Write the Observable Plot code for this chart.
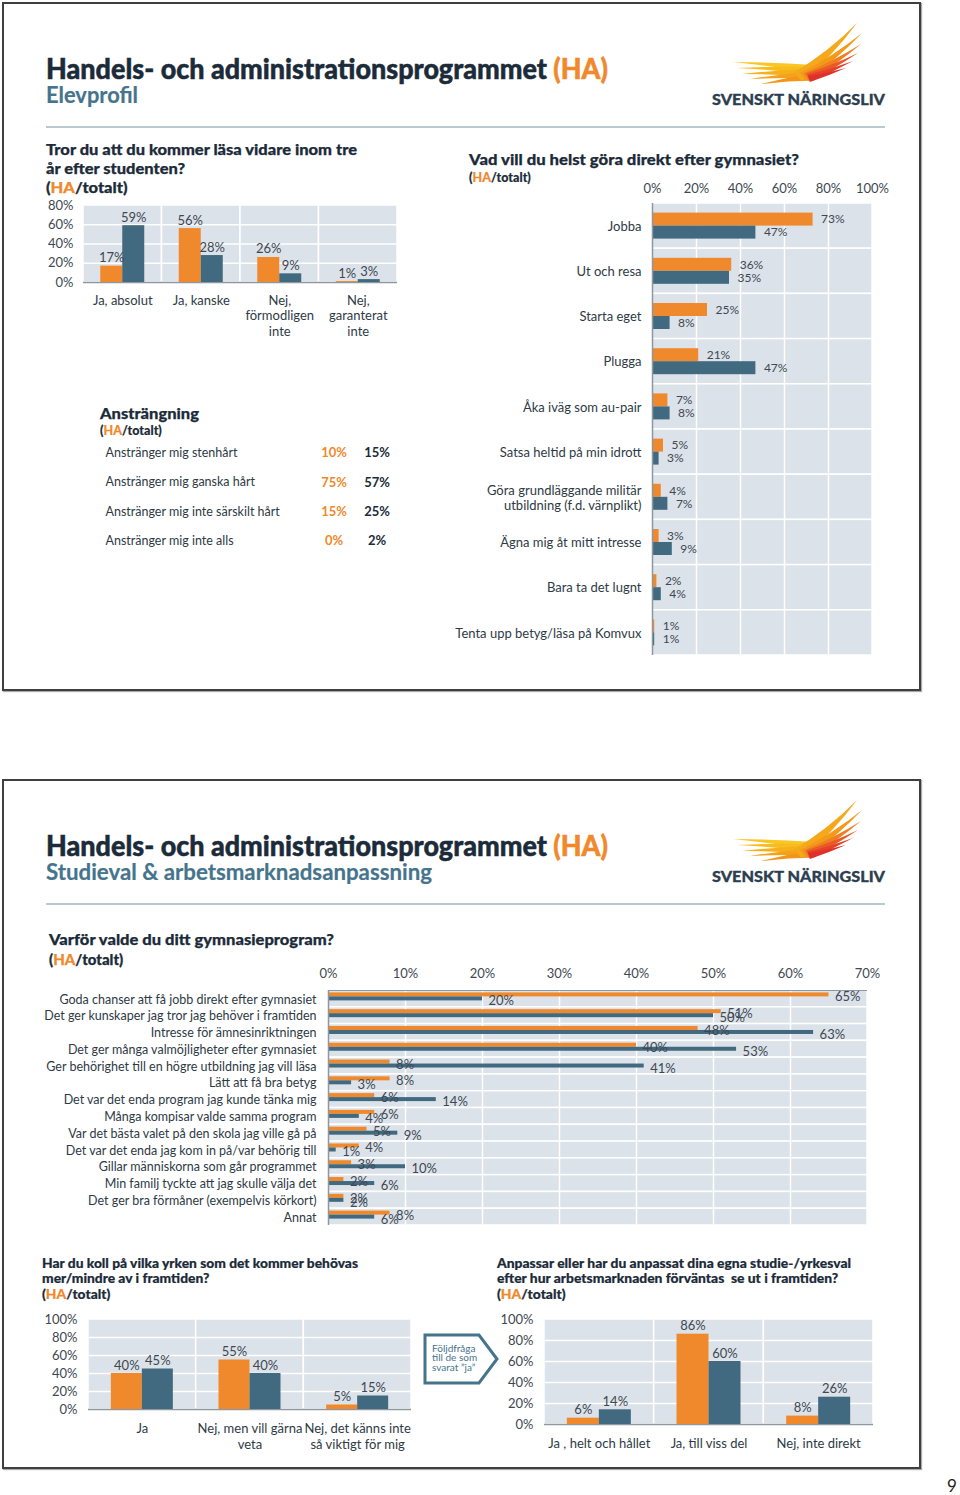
<!DOCTYPE html>
<html><head><meta charset="utf-8">
<script src="https://cdn.jsdelivr.net/npm/d3@7"></script>
<script src="https://cdn.jsdelivr.net/npm/@observablehq/plot@0.6"></script>
<style>
body{margin:0;background:#fff;font-family:Lato,"Noto Sans",sans-serif;}
#page{position:relative;width:960px;height:1495px;overflow:hidden;}
.abs{position:absolute;white-space:nowrap;}
.slide{position:absolute;border:2px solid #3f3f3f;box-sizing:border-box;box-shadow:1px 1px 1px #aaa;}
.o{color:#F0892C;}
</style></head><body><div id="page"></div>
<script>
// ---------- data ----------
const mainTitle = 'Handels- och administrationsprogrammet <span class="o">(HA)</span>';
const subtitle1 = "Elevprofil";
const subtitle2 = "Studieval &amp; arbetsmarknadsanpassning";
const logoText = "SVENSKT NÄRINGSLIV";
const haTot = '(<span class="o">HA</span>/totalt)';

const studyCats = ["Ja, absolut", "Ja, kanske", "Nej,\nförmodligen\ninte", "Nej,\ngaranterat\ninte"];
const studyHA = [17, 56, 26, 1];
const studyTot = [59, 28, 9, 3];
const studyTicks = [0, 20, 40, 60, 80];

const afterCats = ["Jobba", "Ut och resa", "Starta eget", "Plugga", "Åka iväg som au-pair",
  "Satsa heltid på min idrott", "Göra grundläggande militär\nutbildning (f.d. värnplikt)",
  "Ägna mig åt mitt intresse", "Bara ta det lugnt", "Tenta upp betyg/läsa på Komvux"];
const afterHA = [73, 36, 25, 21, 7, 5, 4, 3, 2, 1];
const afterTot = [47, 35, 8, 47, 8, 3, 7, 9, 4, 1];
const afterTicks = [0, 20, 40, 60, 80, 100];

const effortRows = ["Anstränger mig stenhårt", "Anstränger mig ganska hårt", "Anstränger mig inte särskilt hårt", "Anstränger mig inte alls"];
const effortHA = [10, 75, 15, 0];
const effortTot = [15, 57, 25, 2];

const whyCats = ["Goda chanser att få jobb direkt efter gymnasiet",
  "Det ger kunskaper jag tror jag behöver i framtiden",
  "Intresse för ämnesinriktningen",
  "Det ger många valmöjligheter efter gymnasiet",
  "Ger behörighet till en högre utbildning jag vill läsa",
  "Lätt att få bra betyg",
  "Det var det enda program jag kunde tänka mig",
  "Många kompisar valde samma program",
  "Var det bästa valet på den skola jag ville gå på",
  "Det var det enda jag kom in på/var behörig till",
  "Gillar människorna som går programmet",
  "Min familj tyckte att jag skulle välja det",
  "Det ger bra förmåner (exempelvis körkort)",
  "Annat"];
const whyHA = [65, 51, 48, 40, 8, 8, 6, 6, 5, 4, 3, 2, 2, 8];
const whyTot = [20, 50, 63, 53, 41, 3, 14, 4, 9, 1, 10, 6, 2, 6];
const whyTicks = [0, 10, 20, 30, 40, 50, 60, 70];

const kollCats = ["Ja", "Nej, men vill gärna\nveta", "Nej, det känns inte\nså viktigt för mig"];
const kollHA = [40, 55, 5];
const kollTot = [45, 40, 15];

const adaptCats = ["Ja , helt och hållet", "Ja, till viss del", "Nej, inte direkt"];
const adaptHA = [6, 86, 8];
const adaptTot = [14, 60, 26];
const ticks100 = [0, 20, 40, 60, 80, 100];

// ---------- style ----------
const FONT = "Lato, 'Noto Sans', sans-serif";
const ORANGE = "#F0892C", BLUE = "#41697F", BG = "#DCE2E9", GRID = "#FFFFFF", AXIS = "#8E979F";
const LABEL = "#3E4852", CAT = "#2E3A45", INK = "#1C2B39", TEAL = "#45748C";
const page = document.getElementById("page");

function long(cats, ha, tot) { return cats.flatMap((c, i) => [{cat: c, s: "HA", v: ha[i]}, {cat: c, s: "totalt", v: tot[i]}]); }
const pct = d => d.v + "%";

function place(node, left, top) {
  const d = document.createElement("div"); d.className = "abs";
  d.style.left = left + "px"; d.style.top = top + "px";
  d.appendChild(node); page.appendChild(d); return d;
}
function txt(html, {x, base, size, weight = 400, color = INK, lh, fit, heavy}) {
  const el = document.createElement("div"); el.className = "abs";
  lh = lh || Math.round(size * 1.2);
  Object.assign(el.style, {fontSize: size + "px", lineHeight: lh + "px", fontWeight: weight, color, left: x + "px"});
  if (heavy) el.style.webkitTextStroke = heavy + "px currentColor";
  el.innerHTML = html;
  el.style.top = (base - ((lh - 1.2 * size) / 2 + 0.987 * size)) + "px";
  page.appendChild(el);
  if (fit) { const w = el.getBoundingClientRect().width; el.style.transformOrigin = "0 0"; el.style.transform = `scaleX(${fit / w})`; }
  return el;
}

function vbars(o) {
  const data = long(o.cats, o.ha, o.tot);
  const bw = (o.width - o.ml - o.mr) / o.cats.length, half = bw / 2;
  const HA = data.filter(d => d.s === "HA"), TOT = data.filter(d => d.s === "totalt");
  return Plot.plot({
    width: o.width, height: o.height, marginLeft: o.ml, marginRight: o.mr, marginTop: o.mt, marginBottom: o.mb,
    x: {type: "band", domain: o.cats, padding: 0, round: false, axis: null},
    y: {domain: [0, o.ymax], axis: null},
    style: {fontFamily: FONT, fontSize: "13px", color: LABEL, background: "transparent", overflow: "visible"},
    marks: [
      Plot.barY(o.cats, {x: d => d, y1: 0, y2: o.ymax, fill: BG, stroke: GRID, strokeWidth: 1.5}),
      Plot.ruleY(o.ticks.filter(t => t > 0 && t < o.ymax), {stroke: GRID, strokeWidth: 1.5}),
      Plot.ruleY([0], {stroke: AXIS, strokeWidth: 1.5}),
      Plot.barY(HA, {x: "cat", y: "v", fill: ORANGE, insetLeft: half - o.barW, insetRight: half}),
      Plot.barY(TOT, {x: "cat", y: "v", fill: BLUE, insetLeft: half, insetRight: half - o.barW}),
      Plot.text(HA, {x: "cat", y: "v", text: pct, dx: -o.barW / 2, dy: -4, lineAnchor: "bottom", fill: LABEL}),
      Plot.text(TOT, {x: "cat", y: "v", text: pct, dx: o.barW / 2, dy: -4, lineAnchor: "bottom", fill: LABEL}),
      Plot.text(o.ticks, {y: d => d, text: d => d + "%", frameAnchor: "left", textAnchor: "end", dx: -o.tickDx, fill: LABEL}),
      Plot.text(o.cats, {x: d => d, text: d => d, frameAnchor: "bottom", lineAnchor: "top", dy: o.catDy, lineHeight: o.catLh, fill: CAT})
    ]
  });
}

function hbars(o) {
  const data = long(o.cats, o.ha, o.tot);
  const bh = (o.height - o.mt - o.mb) / o.cats.length, half = bh / 2;
  const HA = data.filter(d => d.s === "HA"), TOT = data.filter(d => d.s === "totalt");
  const sh = o.shift || 0, ls = o.labelShift || 0;
  const marks = [
    Plot.barX(o.cats, {y: d => d, x1: 0, x2: o.xmax, fill: BG, stroke: GRID, strokeWidth: 1.5}),
    Plot.ruleX(o.ticks.filter(t => t > 0 && t < o.xmax), {stroke: GRID, strokeWidth: 1.5}),
    Plot.barX(HA, {y: "cat", x: "v", fill: ORANGE, insetTop: half - o.barH + sh, insetBottom: half - sh}),
    Plot.barX(TOT, {y: "cat", x: "v", fill: BLUE, insetTop: half + sh, insetBottom: half - o.barH - sh}),
    Plot.ruleX([0], {stroke: AXIS, strokeWidth: 1.5})
  ];
  if (o.topLine) marks.push(Plot.ruleY([o.cats[0]], {dy: -half, stroke: AXIS, strokeWidth: 1.2}));
  marks.push(
    Plot.text(HA, {y: "cat", x: "v", text: pct, textAnchor: "start", dx: o.ldx, dy: -o.barH / 2 + sh + ls, fill: LABEL}),
    Plot.text(TOT, {y: "cat", x: "v", text: pct, textAnchor: "start", dx: o.ldx, dy: o.barH / 2 + sh + ls, fill: LABEL}),
    Plot.text(o.ticks, {x: d => d, text: d => d + "%", frameAnchor: "top", dy: -o.tickDy, fill: LABEL, fontSize: 13}),
    Plot.text(o.cats, {y: d => d, text: d => d, frameAnchor: "left", textAnchor: "end", dx: -o.catDx, lineHeight: o.catLh || 1.15, fill: CAT, fontSize: o.catFs})
  );
  return Plot.plot({
    width: o.width, height: o.height, marginLeft: o.ml, marginRight: o.mr, marginTop: o.mt, marginBottom: o.mb,
    y: {type: "band", domain: o.cats, padding: 0, round: false, axis: null},
    x: {domain: [0, o.xmax], axis: null},
    style: {fontFamily: FONT, fontSize: o.fs + "px", color: LABEL, background: "transparent", overflow: "visible"},
    marks
  });
}

// ---------- slide frames ----------
function slide(top, h) { const d = document.createElement("div"); d.className = "slide"; Object.assign(d.style, {left: "2px", top: top + "px", width: "919px", height: h + "px"}); page.appendChild(d); }
slide(2, 689);
slide(779, 690);

// ---------- logo ----------
function logo(dy) {
  const ns = "http://www.w3.org/2000/svg";
  const svg = document.createElementNS(ns, "svg");
  svg.setAttribute("width", 200); svg.setAttribute("height", 80);
  const ox = 700, oy = 12;
  function feather(b, t, w, bend, col) {
    const dxv = t[0] - b[0], dyv = t[1] - b[1], L = Math.hypot(dxv, dyv);
    const n = [-dyv / L, dxv / L];
    const m = [(b[0] + t[0]) / 2, (b[1] + t[1]) / 2];
    const p1 = [b[0] + n[0] * w / 2, b[1] + n[1] * w / 2], p2 = [b[0] - n[0] * w / 2, b[1] - n[1] * w / 2];
    const c1 = [m[0] + n[0] * (bend + w / 4), m[1] + n[1] * (bend + w / 4)], c2 = [m[0] + n[0] * (bend - w / 4), m[1] + n[1] * (bend - w / 4)];
    const P = p => `${p[0] - ox},${p[1] - oy}`;
    const path = document.createElementNS(ns, "path");
    path.setAttribute("d", `M${P(p1)}Q${P(c1)} ${P(t)}Q${P(c2)} ${P(p2)}Z`);
    path.setAttribute("fill", col);
    svg.appendChild(path);
  }
  // left feathers
  feather([814, 69], [733, 62], 8, 1.5, "#F9C623");
  feather([814, 71], [737, 68], 8, 1.5, "#F8BC1F");
  feather([814, 73], [742, 74], 8, 1.5, "#F6B01B");
  feather([814, 75], [750, 79], 7, 1.5, "#F4A319");
  feather([814, 77], [761, 84], 7, 1.5, "#F29519");
  // right feathers
  feather([798, 77], [857, 23], 12, 5, "#F6A81B");
  feather([803, 77], [862, 33], 10, 4, "#F39A1A");
  feather([806, 77], [861, 44], 9, 3, "#EF7F20");
  feather([808, 77], [858, 53], 8, 2, "#EA5A25");
  feather([809, 78], [853, 61], 7, 1.5, "#E64028");
  feather([809, 79], [846, 68], 6, 1, "#E0302B");
  place(svg, ox, oy + dy);
  txt(logoText, {x: 712, base: 104.5 + dy, size: 15, weight: 900, color: "#2C3E50", fit: 173, heavy: 0.3});
}

// ---------- headers ----------
function header(dy, sub, subW) {
  txt(mainTitle, {x: 46, base: 79 + dy, size: 29, weight: 900, color: INK, fit: 562, lh: 26, heavy: 0.5});
  txt(sub, {x: 46, base: 104 + dy, size: 22, weight: 700, color: TEAL, fit: subW, lh: 16, heavy: 0.2});
  const l = document.createElement("div"); l.className = "abs";
  Object.assign(l.style, {left: "46px", top: (126 + dy) + "px", width: "839px", height: "2px", background: "#B9C9CF"});
  page.appendChild(l);
  logo(dy);
}
header(0, subtitle1, 92);
header(777, subtitle2, 386);

// ---------- slide 1 ----------
const H = 0.25;
txt(["Tror du att du kommer läsa vidare inom tre", "år efter studenten?", haTot].join("<br>"),
  {x: 46, base: 155.5, size: 15, weight: 900, lh: 19, fit: 311, heavy: H});
place(vbars({cats: studyCats, ha: studyHA, tot: studyTot, ticks: studyTicks, ymax: 80,
  width: 380, height: 150, ml: 53, mr: 13, mt: 10, mb: 63, barW: 22, tickDx: 10, catDy: 11, catLh: 1.2}), 30, 195);

txt("Vad vill du helst göra direkt efter gymnasiet?", {x: 469, base: 165.5, size: 15.5, weight: 900, fit: 330, heavy: H});
txt(haTot, {x: 469, base: 182.5, size: 12.5, weight: 900, heavy: 0.15});
place(hbars({cats: afterCats, ha: afterHA, tot: afterTot, ticks: afterTicks, xmax: 100,
  width: 460, height: 500, ml: 212, mr: 28, mt: 43, mb: 5, barH: 13, ldx: 8, fs: 12, catFs: 13, catDx: 11, tickDy: 20}), 440, 160);

txt("Ansträngning", {x: 100, base: 419.5, size: 15.5, weight: 900, fit: 99, heavy: H});
txt(haTot, {x: 100, base: 435.5, size: 12.5, weight: 900, heavy: 0.15});
place(Plot.plot({
  width: 310, height: 117, margin: 0,
  y: {type: "band", domain: effortRows, padding: 0, round: false, axis: null},
  x: {domain: [0, 1], axis: null},
  style: {fontFamily: FONT, fontSize: "13px", background: "transparent", overflow: "visible"},
  marks: [
    Plot.text(effortRows, {y: d => d, text: d => d, frameAnchor: "left", textAnchor: "start", dx: 10, fill: CAT, fontSize: 12.5}),
    Plot.text(effortHA, {y: (d, i) => effortRows[i], text: d => d + "%", frameAnchor: "left", textAnchor: "middle", dx: 238.5, fill: ORANGE, fontWeight: "bold"}),
    Plot.text(effortTot, {y: (d, i) => effortRows[i], text: d => d + "%", frameAnchor: "left", textAnchor: "middle", dx: 281.5, fill: INK, fontWeight: "bold"})
  ]
}), 95, 438);

// ---------- slide 2 ----------
txt("Varför valde du ditt gymnasieprogram?", {x: 49, base: 945.5, size: 15.5, weight: 900, fit: 285, heavy: H});
txt(haTot, {x: 49, base: 964.5, size: 15, weight: 900, heavy: H});
place(hbars({cats: whyCats, ha: whyHA, tot: whyTot, ticks: whyTicks, xmax: 70, topLine: true,
  width: 870, height: 270, ml: 298, mr: 33, mt: 30, mb: 5, barH: 4, shift: -2, labelShift: 2.3, ldx: 6, fs: 13, catFs: 12.5, catDx: 12, tickDy: 22}), 30, 960);

txt(["Har du koll på vilka yrken som det kommer behövas", "mer/mindre av i framtiden?", haTot].join("<br>"),
  {x: 42, base: 1268.5, size: 13, weight: 900, lh: 15.5, fit: 316, heavy: 0.2});
place(vbars({cats: kollCats, ha: kollHA, tot: kollTot, ticks: ticks100, ymax: 100,
  width: 400, height: 150, ml: 58, mr: 19, mt: 14, mb: 46, barW: 31, tickDx: 11, catDy: 12.3, catLh: 1.23}), 30, 1305);

txt(["Anpassar eller har du anpassat dina egna studie-/yrkesval", "efter hur arbetsmarknaden förväntas&nbsp; se ut i framtiden?", haTot].join("<br>"),
  {x: 497, base: 1268.5, size: 13, weight: 900, lh: 15.5, fit: 354, heavy: 0.2});
place(vbars({cats: adaptCats, ha: adaptHA, tot: adaptTot, ticks: ticks100, ymax: 100,
  width: 400, height: 150, ml: 54, mr: 17, mt: 14, mb: 31, barW: 32, tickDx: 11, catDy: 12.3, catLh: 1.23}), 490, 1305);

// follow-up arrow box
(function () {
  const ns = "http://www.w3.org/2000/svg";
  const svg = document.createElementNS(ns, "svg");
  svg.setAttribute("width", 80); svg.setAttribute("height", 56);
  const poly = document.createElementNS(ns, "polygon");
  poly.setAttribute("points", "2,2 56,2 74,26 56,50 2,50");
  poly.setAttribute("fill", "#fff"); poly.setAttribute("stroke", TEAL); poly.setAttribute("stroke-width", 3);
  svg.appendChild(poly);
  place(svg, 423, 1333);
  txt(["Följdfråga", "till de som", "svarat \u201dja\u201d"].join("<br>"), {x: 432, base: 1352.5, size: 10, lh: 9.5, color: TEAL});
})();

txt("9", {x: 947, base: 1493, size: 17, color: "#222"});
</script></body></html>
